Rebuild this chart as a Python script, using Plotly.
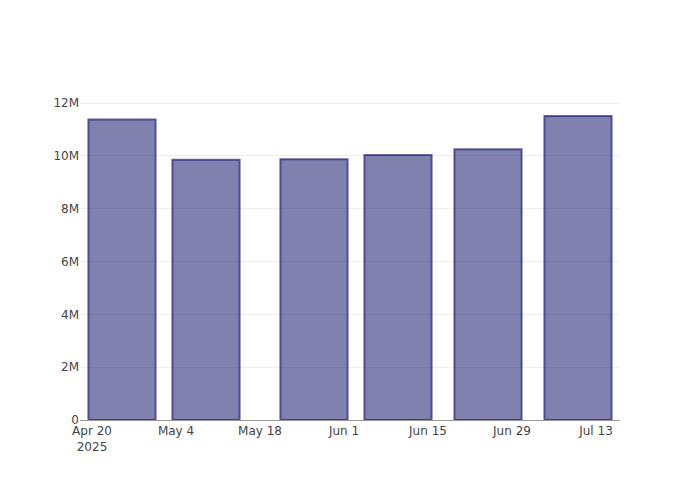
import plotly.graph_objects as go

dates = ["2025-04-25", "2025-05-09", "2025-05-27", "2025-06-10", "2025-06-25", "2025-07-10"]
values = [11.38e6, 9.85e6, 9.87e6, 10.03e6, 10.25e6, 11.51e6]

fig = go.Figure(go.Bar(
    x=dates, y=values,
    marker=dict(color="rgba(25,25,112,0.55)",
                line=dict(color="rgba(25,25,112,0.65)", width=2)),
))
fig.update_layout(
    width=692, height=492,
    paper_bgcolor="white", plot_bgcolor="white",
    margin=dict(l=72, r=80, t=92, b=80),
    font=dict(color="#444", family="DejaVu Sans", size=12),
    showlegend=False,
)
fig.update_xaxes(type="date", range=["2025-04-18", "2025-07-17"],
                 dtick=14 * 86400000, tick0="2025-04-20",
                 showline=True, linecolor="#999", linewidth=1,
                 showgrid=False, ticks="")
fig.update_yaxes(showgrid=True, gridcolor="#eee", zeroline=False,
                 showline=False, tickformat="~s", ticks="")
fig.write_html("out.html")
